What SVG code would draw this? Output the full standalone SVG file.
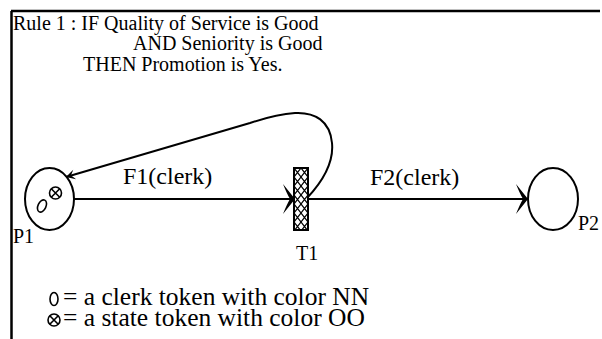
<svg xmlns="http://www.w3.org/2000/svg" width="602" height="339" viewBox="0 0 602 339">
<style>
text{font-family:"Liberation Serif","Times New Roman",serif;fill:#000}
.t20{font-size:20px}
.t24{font-size:24px}
.t26{font-size:25.5px}
.ln{fill:none;stroke:#000;stroke-width:2}
.tok{fill:none;stroke:#000;stroke-width:1.6}
</style>
<defs>
<pattern id="hatch" patternUnits="userSpaceOnUse" x="294" y="168" width="7" height="9">
<rect width="7" height="9" fill="#fff"/>
<path d="M0 0L7 9M7 0L0 9" stroke="#000" stroke-width="1.2"/>
</pattern>
<marker id="big" markerUnits="userSpaceOnUse" viewBox="-13 -16 14 32" refX="0" refY="0" markerWidth="14" markerHeight="32" orient="auto" overflow="visible">
<path d="M0 0L-12 -15Q-8 -5 -5 0Q-8 5 -12 15Z" fill="#000"/>
</marker>
<marker id="small" markerUnits="userSpaceOnUse" viewBox="-9 -6 10 12" refX="0" refY="0" markerWidth="10" markerHeight="12" orient="auto" overflow="visible">
<path d="M0 0L-9 -5Q-6 -1 -5 0Q-6 1 -9 5Z" fill="#000"/>
</marker>
<g id="clerkTok"><ellipse cx="0" cy="0" rx="4" ry="6.5" class="tok"/></g>
<g id="stateTok"><circle cx="0" cy="0" r="6" class="tok"/><path d="M-4.2 -4.2L4.2 4.2M4.2 -4.2L-4.2 4.2" class="tok"/></g>
</defs>
<rect width="602" height="339" fill="#fff"/>
<g id="frame">
<path d="M11.5 11V339M11 11H600" fill="none" stroke="#000" stroke-width="2.5"/>
</g>
<g id="rule">
<text class="t20" x="13" y="29.5">Rule 1 : IF Quality of Service is Good</text>
<text class="t20" x="133" y="50">AND Seniority is Good</text>
<text class="t20" x="83" y="70.5">THEN Promotion is Yes.</text>
</g>
<g id="connectors">
<path class="ln" d="M74 199H295" marker-end="url(#big)"/>
<path class="ln" d="M308 199H528" marker-end="url(#big)"/>
<path class="ln" d="M307 198C322 182 334 163 332 143C330 121 315 112 295 113C280 114 265 118 250 123Q160 149 66 177" marker-end="url(#small)"/>
<text class="t24" x="123" y="184">F1(clerk)</text>
<text class="t24" x="370" y="185">F2(clerk)</text>
</g>
<g id="P1">
<ellipse cx="49.5" cy="199" rx="24.5" ry="31" class="ln"/>
<use href="#clerkTok" transform="translate(42 206) rotate(25)"/>
<use href="#stateTok" transform="translate(55.5 193)"/>
<text class="t20" x="13" y="243">P1</text>
</g>
<g id="T1">
<rect x="294" y="168" width="14" height="62" fill="url(#hatch)" stroke="#000" stroke-width="2"/>
<text class="t20" x="296" y="260">T1</text>
</g>
<g id="P2">
<ellipse cx="553" cy="199" rx="25" ry="31" class="ln"/>
<text class="t20" x="578" y="230">P2</text>
</g>
<g id="legend">
<use href="#clerkTok" transform="translate(54 299)"/>
<text class="t26" x="63" y="305">= a clerk token with color NN</text>
<use href="#stateTok" transform="translate(54 320)"/>
<text class="t26" x="63" y="326">= a state token with color OO</text>
</g>
</svg>
